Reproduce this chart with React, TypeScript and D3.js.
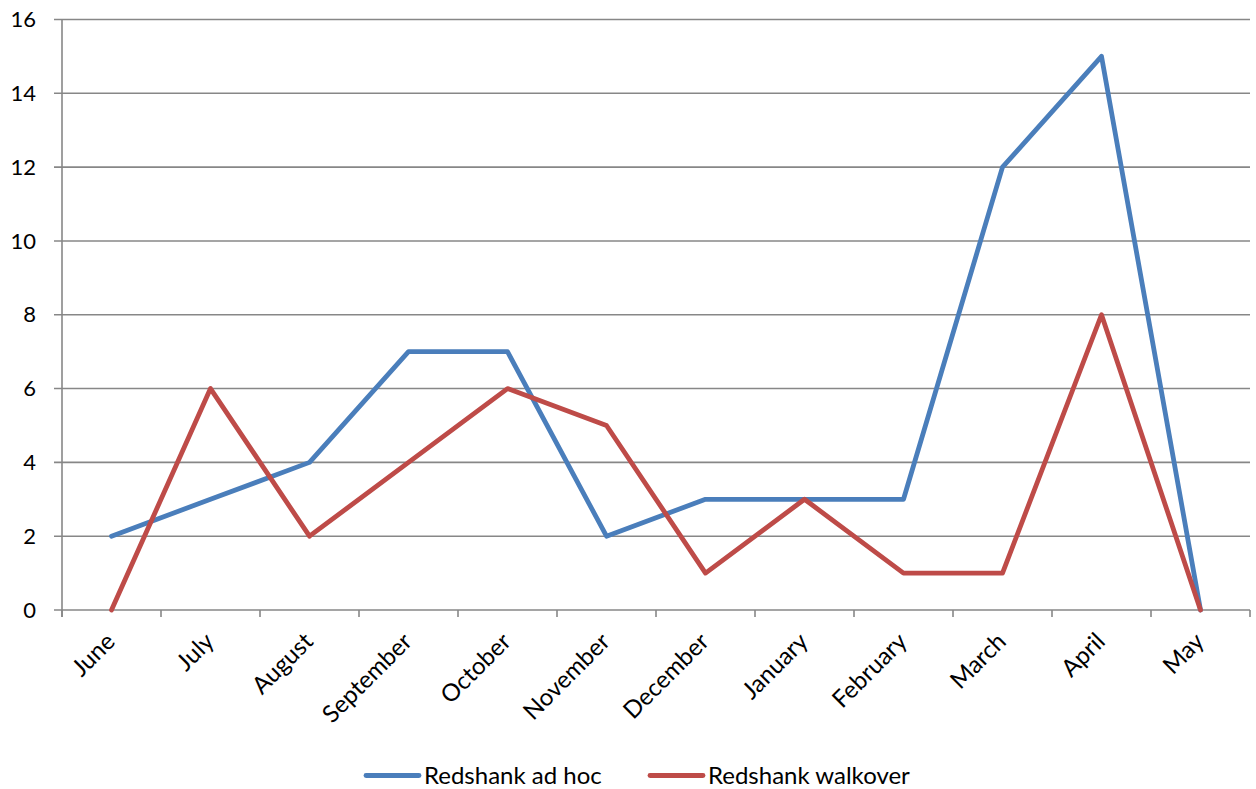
import React from "react";
import * as d3 from "d3";

const months = ["June", "July", "August", "September", "October", "November", "December", "January", "February", "March", "April", "May"];
const adHoc = [2, 3, 4, 7, 7, 2, 3, 3, 3, 12, 15, 0];
const walkover = [0, 6, 2, 4, 6, 5, 1, 3, 1, 1, 8, 0];
const yTicks = [0, 2, 4, 6, 8, 10, 12, 14, 16];

const seriesList = [
  { name: "Redshank ad hoc", values: adHoc, color: "#4a7ebb" },
  { name: "Redshank walkover", values: walkover, color: "#be4b48" },
];

const W = 1256;
const H = 789;
const left = 62;
const right = 1250;
const top = 19.5;
const bottom = 610;
const font = "Lato, 'Open Sans', sans-serif";

export default function App() {
  const x = d3.scaleBand<string>().domain(months).range([left, right]).padding(0);
  const y = d3.scaleLinear().domain([0, 16]).range([bottom, top]);
  const cx = (m: string) => (x(m) as number) + x.bandwidth() / 2;
  const line = d3
    .line<number>()
    .x((_, i) => cx(months[i]))
    .y((v) => y(v));

  const tickXs = months.map((m) => x(m) as number).concat([right]);
  const legendX = [364, 648];

  return (
    <svg width={W} height={H} style={{ position: "absolute", left: 0, top: 0 }}>
      <rect width={W} height={H} fill="#fff" />
      {yTicks.map((t) => (
        <g key={t}>
          <line x1={left - 8} x2={right} y1={y(t)} y2={y(t)} stroke="#878787" strokeWidth={1.6} />
          <text x={36} y={y(t)} dy="0.35em" textAnchor="end" fontFamily={font} fontSize={22} fill="#000">
            {t}
          </text>
        </g>
      ))}
      <line x1={left} x2={left} y1={top} y2={bottom + 7} stroke="#878787" strokeWidth={1.6} />
      {tickXs.map((tx, i) => (
        <line key={i} x1={tx} x2={tx} y1={bottom} y2={bottom + 7} stroke="#878787" strokeWidth={1.6} />
      ))}
      {months.map((m) => (
        <text
          key={m}
          transform={`translate(${cx(m) + 5},${bottom + 33}) rotate(-45)`}
          textAnchor="end"
          fontFamily={font}
          fontSize={24}
          fill="#000"
        >
          {m}
        </text>
      ))}
      {seriesList.map((s) => (
        <path
          key={s.name}
          d={line(s.values) || ""}
          fill="none"
          stroke={s.color}
          strokeWidth={4.8}
          strokeLinejoin="round"
          strokeLinecap="round"
        />
      ))}
      {seriesList.map((s, i) => {
        const lx = legendX[i];
        return (
          <g key={s.name}>
            <line x1={lx + 2} x2={lx + 55} y1={775.5} y2={775.5} stroke={s.color} strokeWidth={4.8} strokeLinecap="round" />
            <text x={lx + 60} y={775.5} dy="0.35em" fontFamily={font} fontSize={24} fill="#000">
              {s.name}
            </text>
          </g>
        );
      })}
    </svg>
  );
}
